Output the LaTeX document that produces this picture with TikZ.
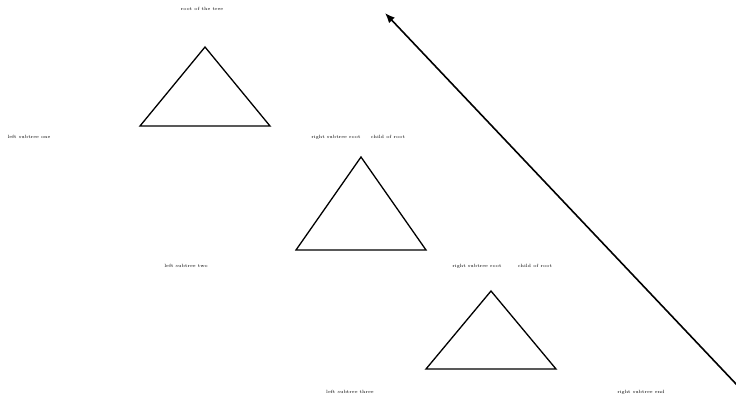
\documentclass[tikz,border=0pt]{standalone}
\usetikzlibrary{arrows.meta,positioning}
\begin{document}
\begin{tikzpicture}[x=1pt,y=-1pt,
    lbl/.style={font=\fontsize{4.6}{5}\selectfont,inner sep=0pt},
    tri/.style={line width=1.3pt,line join=miter}]
      \useasboundingbox (0,0) rectangle (736,394);
      % subtrees
      \foreach \x/\y/\h in {205/47/79,361/157/93,491/291/78} {
        \draw[tri] (\x,\y) -- (\x-65,\y+\h) -- (\x+65,\y+\h) -- cycle;
      }
      % labels
      \node[lbl] (root) at (202,9) {root of the tree};
      \node[lbl] (left1) at (29,137) {left subtree one};
      \node[lbl] (mida) at (336,137) {right subtree root};
      \node[lbl] (midb) at (388,137) {child of root};
      \node[lbl] (left2) at (186,266) {left subtree two};
      \node[lbl] (lowa) at (477,266) {right subtree root};
      \node[lbl] (lowb) at (535,266) {child of root};
      \node[lbl] (left3) at (350,392) {left subtree three};
      \node[lbl] (right3) at (641,392) {right subtree end};
      % descent
      \coordinate (tail) at (737,385);
      \coordinate (head) at (385,13);
      \draw[-{Latex[length=10pt,width=8pt]}, line width=1.6pt] (tail) -- (head);
    \end{tikzpicture}
\end{document}
